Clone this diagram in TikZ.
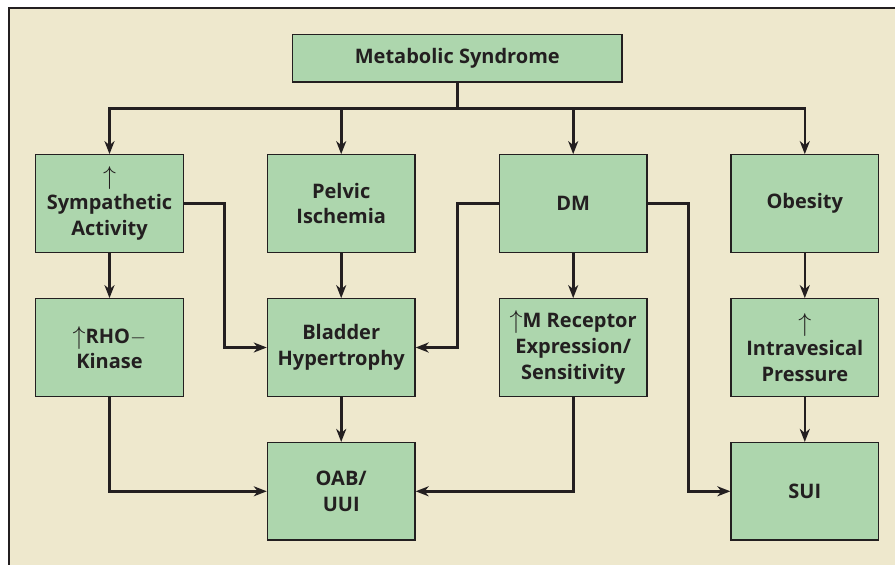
\documentclass[tikz,border=0pt]{standalone}
\usepackage{fontspec}
\setmainfont{Open Sans}
\usetikzlibrary{arrows.meta}
\definecolor{cream}{HTML}{EEE8CD}
\definecolor{boxgreen}{HTML}{ADD6AD}
\definecolor{ink}{HTML}{231F20}
\newcommand{\upar}{\raisebox{-0.05em}{\scalebox{1.25}{$\uparrow$}}}
\tikzset{
  box/.style={draw=ink, line width=1.2pt, fill=boxgreen, minimum width=147.7pt, minimum height=97.5pt,
    inner sep=0pt, align=center, text=ink, font=\fontsize{20}{25.7}\selectfont\bfseries},
  conn/.style={draw=ink, line width=2.6pt},
  arr/.style={conn, -{Stealth[length=13pt,width=10pt,inset=4pt]}},
}
\begin{document}
\begin{tikzpicture}[x=1pt,y=-1pt]
\useasboundingbox (0,0) rectangle (895,565);
\fill[white] (0,0) rectangle (895,565);
\fill[cream] (9,8) rectangle (895,565);
\draw[ink, line width=2.4pt] (9,566) -- (9,8) -- (896,8);

\node[box, minimum width=329.3pt, minimum height=47.7pt] (ms) at (457.3,58.2) {Metabolic Syndrome};

\node[box] (sym) at (109.5,203.5) {\upar\\Sympathetic\\Activity};
\node[box] (pel) at (341.2,203.5) {Pelvic\\Ischemia};
\node[box] (dm)  at (573.2,203.5) {DM};
\node[box] (ob)  at (804.8,203.5) {Obesity};

\node[box] (rho) at (109.5,347.5) {\upar RHO$-$\\Kinase};
\node[box] (bl)  at (341.2,347.5) {Bladder\\Hypertrophy};
\node[box] (mr)  at (573.2,347.5) {\upar M Receptor\\Expression/\\Sensitivity};
\node[box] (iv)  at (804.8,347.5) {\upar\\Intravesical\\Pressure};

\node[box] (oab) at (341.2,491.3) {OAB/\\UUI};
\node[box] (sui) at (804.8,491.3) {SUI};

\coordinate (hub) at (457.3,108.3);
\coordinate (k1) at (224.3,347.5);
\coordinate (k2) at (457.3,347.5);
\coordinate (k3) at (688.7,491.3);

\draw[conn] (ms.south) -- (hub);
\draw[arr] (hub) -| (sym.north);
\draw[arr] (hub) -| (pel.north);
\draw[arr] (hub) -| (dm.north);
\draw[arr] (hub) -| (ob.north);

\draw[arr] (sym) -- (rho);
\draw[arr] (pel) -- (bl);
\draw[arr] (dm) -- (mr);
\draw[arr] (ob) -- (iv);
\draw[arr] (bl) -- (oab);
\draw[arr] (iv) -- (sui);

\draw[arr] (sym.east) -| (k1) -- (bl.west);
\draw[arr] (dm.west) -| (k2) -- (bl.east);
\draw[arr] (dm.east) -| (k3) -- (sui.west);
\draw[arr] (rho.south) |- (oab.west);
\draw[arr] (mr.south) |- (oab.east);
\end{tikzpicture}
\end{document}
